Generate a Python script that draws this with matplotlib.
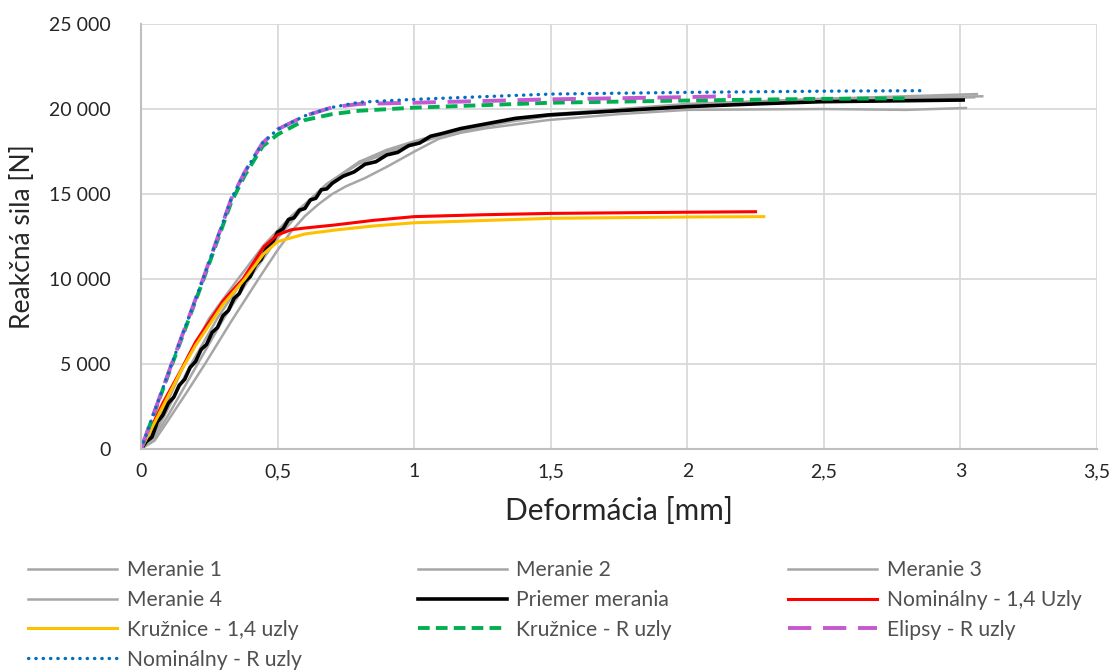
import numpy as np
import matplotlib
matplotlib.use("Agg")
import matplotlib.pyplot as plt
from matplotlib.ticker import FuncFormatter, MultipleLocator

plt.rcParams['font.family'] = ['Lato', 'DejaVu Sans']

# measurements (gray)
m1_x = [0, 0.05, 0.10, 0.16, 0.25, 0.355, 0.45, 0.55, 0.65, 0.72, 0.80, 0.90, 1.0, 1.1, 1.2, 1.35, 1.5, 1.75, 2.0, 2.5, 3.06]
m1_y = [0, 1300, 2900, 5000, 7700, 10000, 12000, 13700, 15100, 16000, 16900, 17600, 18100, 18550, 18900, 19350, 19700, 20000, 20300, 20600, 20880]
m2_x = [0, 0.05, 0.10, 0.17, 0.234, 0.33, 0.43, 0.50, 0.55, 0.60, 0.65, 0.70, 0.75, 0.82, 0.90, 1.0, 1.09, 1.17, 1.26, 1.49, 1.75, 2.0, 2.5, 2.8, 3.02]
m2_y = [0, 500, 1700, 3400, 5000, 7500, 10000, 11700, 12800, 13700, 14400, 15000, 15450, 15940, 16600, 17490, 18250, 18600, 18860, 19350, 19700, 19950, 20000, 19950, 20060]
m3_x = [0, 0.05, 0.10, 0.20, 0.30, 0.40, 0.50, 0.60, 0.70, 0.80, 0.90, 1.0, 1.1, 1.2, 1.35, 1.5, 1.75, 2.0, 2.5, 3.05]
m3_y = [0, 700, 2000, 4800, 7600, 10100, 12400, 14300, 15800, 16900, 17500, 18000, 18450, 18800, 19250, 19600, 19900, 20200, 20500, 20690]
m4_x = [0, 0.05, 0.10, 0.18, 0.28, 0.38, 0.48, 0.58, 0.68, 0.80, 0.90, 1.0, 1.1, 1.2, 1.35, 1.5, 1.75, 2.0, 2.5, 3.08]
m4_y = [0, 900, 2400, 4900, 7700, 10100, 12300, 14100, 15600, 16800, 17400, 17900, 18450, 18850, 19300, 19650, 19950, 20250, 20600, 20750]

# average of measurements
avg_x = [0, 0.02, 0.04, 0.06, 0.08, 0.10, 0.12, 0.14, 0.16, 0.18, 0.20, 0.22, 0.24, 0.26, 0.28,
         0.30, 0.32, 0.34, 0.36, 0.38, 0.40, 0.42, 0.44, 0.46, 0.48, 0.50, 0.52, 0.54, 0.56, 0.58,
         0.60, 0.62, 0.64, 0.66, 0.68, 0.70, 0.74, 0.78, 0.82, 0.86, 0.90, 0.94, 0.98, 1.02,
         1.06, 1.10, 1.17, 1.24, 1.37, 1.49, 1.75, 2.0, 2.25, 2.49, 2.75, 3.01]
avg_y = [0, 450, 700, 1600, 2000, 2700, 3050, 3750, 4100, 4800, 5150, 5850, 6150, 6850, 7150,
         7850, 8150, 8850, 9150, 9850, 10150, 10850, 11150, 11850, 12100, 12750, 12950, 13500, 13600, 14050,
         14150, 14650, 14750, 15250, 15300, 15630, 16050, 16300, 16750, 16900, 17300, 17450, 17850, 18000,
         18400, 18550, 18850, 19060, 19450, 19650, 19900, 20140, 20300, 20430, 20480, 20530]

# simulations
nom14_x = [0, 0.08, 0.145, 0.20, 0.30, 0.373, 0.45, 0.50, 0.55, 0.60, 0.71, 0.85, 1.0, 1.25, 1.5, 2.0, 2.25]
nom14_y = [0, 2700, 4600, 6300, 8700, 10000, 11900, 12600, 12900, 13000, 13180, 13450, 13670, 13780, 13860, 13930, 13960]
kr14_x = [0, 0.08, 0.15, 0.20, 0.30, 0.38, 0.45, 0.50, 0.60, 0.71, 0.85, 1.0, 1.5, 2.0, 2.28]
kr14_y = [0, 2500, 4700, 6100, 8500, 10000, 11500, 12200, 12650, 12880, 13120, 13310, 13570, 13650, 13670]
krR_x = [0, 0.112, 0.227, 0.33, 0.38, 0.445, 0.50, 0.60, 0.70, 0.80, 1.0, 1.5, 2.0, 2.5, 2.8]
krR_y = [0, 4900, 9900, 14500, 16100, 17800, 18500, 19350, 19700, 19900, 20080, 20370, 20500, 20600, 20630]
elR_x = [0, 0.112, 0.227, 0.33, 0.38, 0.445, 0.50, 0.60, 0.70, 0.80, 1.0, 1.5, 2.0, 2.16]
elR_y = [0, 5000, 10000, 14700, 16300, 18000, 18800, 19600, 20100, 20300, 20370, 20570, 20700, 20760]
nomR_x = [0, 0.112, 0.227, 0.33, 0.38, 0.445, 0.50, 0.60, 0.70, 0.80, 1.0, 1.5, 2.0, 2.5, 2.86]
nomR_y = [0, 5000, 10000, 14700, 16300, 18000, 18800, 19600, 20100, 20400, 20570, 20880, 20980, 21050, 21080]

fig = plt.figure(figsize=(11.12, 6.71), dpi=100)
ax = fig.add_axes([0.1268, 0.3308, 0.8597, 0.6334])

gray = '#a6a6a6'
h = {}
h['m1'], = ax.plot(m1_x, m1_y, color=gray, lw=1.8, label='Meranie 1')
h['m2'], = ax.plot(m2_x, m2_y, color=gray, lw=1.8, label='Meranie 2')
h['m3'], = ax.plot(m3_x, m3_y, color=gray, lw=1.8, label='Meranie 3')
h['m4'], = ax.plot(m4_x, m4_y, color=gray, lw=1.8, label='Meranie 4')
h['avg'], = ax.plot(avg_x, avg_y, color='black', lw=2.6, label='Priemer merania')
h['nom14'], = ax.plot(nom14_x, nom14_y, color='#ff0000', lw=2.2, label='Nominálny - 1,4 Uzly')
h['kr14'], = ax.plot(kr14_x, kr14_y, color='#ffc000', lw=2.2, label='Kružnice - 1,4 uzly')
h['krR'], = ax.plot(krR_x, krR_y, color='#00b050', lw=2.8, ls=(0, (3, 1.6)), label='Kružnice - R uzly')
h['elR'], = ax.plot(elR_x, elR_y, color='#c55ad0', lw=2.8, ls=(0, (6, 3)), label='Elipsy - R uzly')
h['nomR'], = ax.plot(nomR_x, nomR_y, color='#0070c0', lw=2.4, ls=(0, (0.1, 2.1)),
                     dash_capstyle='round', label='Nominálny - R uzly')

ax.set_xlim(0, 3.5)
ax.set_ylim(0, 25000)
ax.xaxis.set_major_locator(MultipleLocator(0.5))
ax.yaxis.set_major_locator(MultipleLocator(5000))
ax.xaxis.set_major_formatter(FuncFormatter(lambda v, p: ('%g' % v).replace('.', ',')))
ax.yaxis.set_major_formatter(FuncFormatter(lambda v, p: '{:,.0f}'.format(v).replace(',', ' ')))
ax.grid(True, color='#d9d9d9', lw=1.3)
ax.set_axisbelow(True)
for s in ['top', 'right']:
    ax.spines[s].set_visible(False)
ax.spines['left'].set_color('#bfbfbf')
ax.spines['bottom'].set_color('#bfbfbf')
ax.spines['left'].set_linewidth(1.5)
ax.spines['bottom'].set_linewidth(1.5)
ax.tick_params(length=0, labelsize=14, colors='#262626')
ax.tick_params(axis='y', pad=22)
ax.tick_params(axis='x', pad=10)

ax.set_xlabel('Deformácia [mm]', fontsize=21.5, color='#262626', labelpad=12)
ax.set_ylabel('Reakčná sila [N]', fontsize=19, color='#262626', labelpad=10)

order = ['m1', 'm4', 'kr14', 'nomR', 'm2', 'avg', 'krR', 'm3', 'nom14', 'elR']
fig.legend([h[k] for k in order], [h[k].get_label() for k in order],
           ncol=3, loc='upper left', bbox_to_anchor=(0.018, 0.178, 0.962, 0.0),
           mode='expand', frameon=False, fontsize=15.2, handlelength=4.2,
           handletextpad=0.45, labelspacing=0.47, borderaxespad=0, labelcolor='#505050')

plt.savefig('out.png', dpi=100)
